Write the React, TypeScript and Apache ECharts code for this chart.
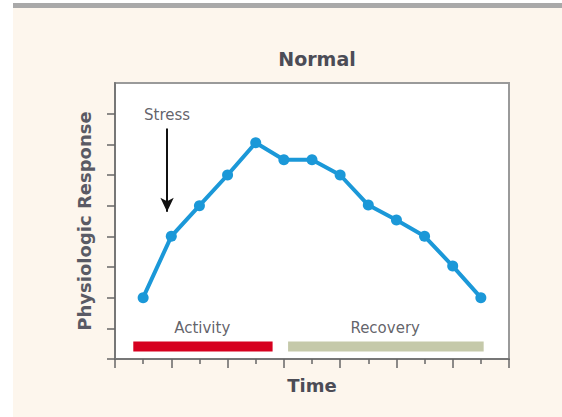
import React, { useEffect, useRef } from "react";
import * as echarts from "echarts";

const timePoints = [1, 2, 3, 4, 5, 6, 7, 8, 9, 10, 11, 12, 13];
const responseValues = [2.0, 4.0, 5.0, 6.0, 7.05, 6.5, 6.5, 6.0, 5.02, 4.53, 4.0, 3.03, 2.0];
const activityBar = [[0.65, 0.41], [5.6, 0.41]];
const recoveryBar = [[6.15, 0.41], [13.1, 0.41]];
const phaseLabels = [
  { name: "Activity", value: [3.1, 1.02] },
  { name: "Recovery", value: [9.6, 1.02] },
  { name: "Stress", value: [1.85, 7.97] },
];
const stressArrow = { x: 1.85, from: 7.52, to: 4.8 };
const yTickValues = [0, 1, 2, 3, 4, 5, 6, 7, 8];
const titleText = "Normal";
const xName = "Time";
const yName = "Physiologic Response";

const FONT = "DejaVu Sans";
const TEXT = "#4c4c56";
const NOTE = "#3a3a44";

export default function App() {
  const ref = useRef<HTMLDivElement>(null);
  useEffect(() => {
    const chart = echarts.init(ref.current!, null, { renderer: "svg" });
    chart.setOption({
      animation: false,
      backgroundColor: "#ffffff",
      graphic: [
        { type: "rect", z: -10, shape: { x: 13, y: 7, width: 560, height: 420 }, style: { fill: "#fdf6ed" } },
        { type: "rect", z: -10, shape: { x: 13, y: 3, width: 560, height: 5 }, style: { fill: "#a9a9a9" } },
      ],
      title: {
        text: titleText,
        left: 312,
        top: 44,
        textAlign: "center",
        textStyle: { fontFamily: FONT, fontSize: 19, fontWeight: "bold", color: TEXT },
      },
      grid: {
        left: 115,
        top: 83,
        right: 53,
        bottom: 58,
        show: true,
        backgroundColor: "#ffffff",
        borderColor: "#9a9a9a",
        borderWidth: 2,
      },
      xAxis: {
        type: "value",
        min: 0,
        max: 14,
        interval: 2,
        name: xName,
        nameLocation: "middle",
        nameGap: 17,
        nameTextStyle: { fontFamily: FONT, fontSize: 18, fontWeight: "bold", color: TEXT, verticalAlign: "top" },
        axisLine: { show: true, onZero: false, lineStyle: { color: "#777", width: 2 } },
        axisTick: { show: true, inside: false, length: 9, lineStyle: { color: "#666", width: 1.5 } },
        minorTick: { show: true, splitNumber: 2, length: 5, lineStyle: { color: "#666", width: 1.5 } },
        axisLabel: { show: false },
        splitLine: { show: false },
      },
      yAxis: {
        type: "value",
        min: 0,
        max: 9,
        interval: 1,
        name: yName,
        nameLocation: "middle",
        nameGap: 22,
        nameTextStyle: { fontFamily: FONT, fontSize: 18, fontWeight: "bold", color: "#5a5a64" },
        axisLine: { show: true, onZero: false, lineStyle: { color: "#777", width: 2 } },
        axisTick: { show: true, inside: false, length: 8, customValues: yTickValues, lineStyle: { color: "#666", width: 1.5 } },
        axisLabel: { show: false },
        splitLine: { show: false },
      },
      series: [
        {
          type: "line",
          data: activityBar,
          symbol: "none",
          lineStyle: { color: "#d6001f", width: 10, cap: "butt" },
          silent: true,
        },
        {
          type: "line",
          data: recoveryBar,
          symbol: "none",
          lineStyle: { color: "#c5c9aa", width: 10, cap: "butt" },
          silent: true,
        },
        {
          type: "line",
          data: timePoints.map((t, i) => [t, responseValues[i]]),
          symbol: "circle",
          symbolSize: 11,
          itemStyle: { color: "#1b98d8" },
          lineStyle: { color: "#1b98d8", width: 4 },
          markLine: {
            silent: true,
            symbol: ["none", "arrow"],
            symbolSize: [10, 14],
            label: { show: false },
            lineStyle: { color: "#111", width: 2, type: "solid" },
            data: [[{ coord: [stressArrow.x, stressArrow.from] }, { coord: [stressArrow.x, stressArrow.to] }]],
          },
        },
        {
          type: "scatter",
          data: phaseLabels,
          symbolSize: 0,
          silent: true,
          label: {
            show: true,
            position: "inside",
            formatter: (p: any) => p.name,
            fontFamily: FONT,
            fontSize: 15,
            color: NOTE,
          },
        },
      ],
    });
    return () => chart.dispose();
  }, []);
  return <div ref={ref} style={{ position: "fixed", left: 0, top: 0, width: 562, height: 417 }} />;
}
